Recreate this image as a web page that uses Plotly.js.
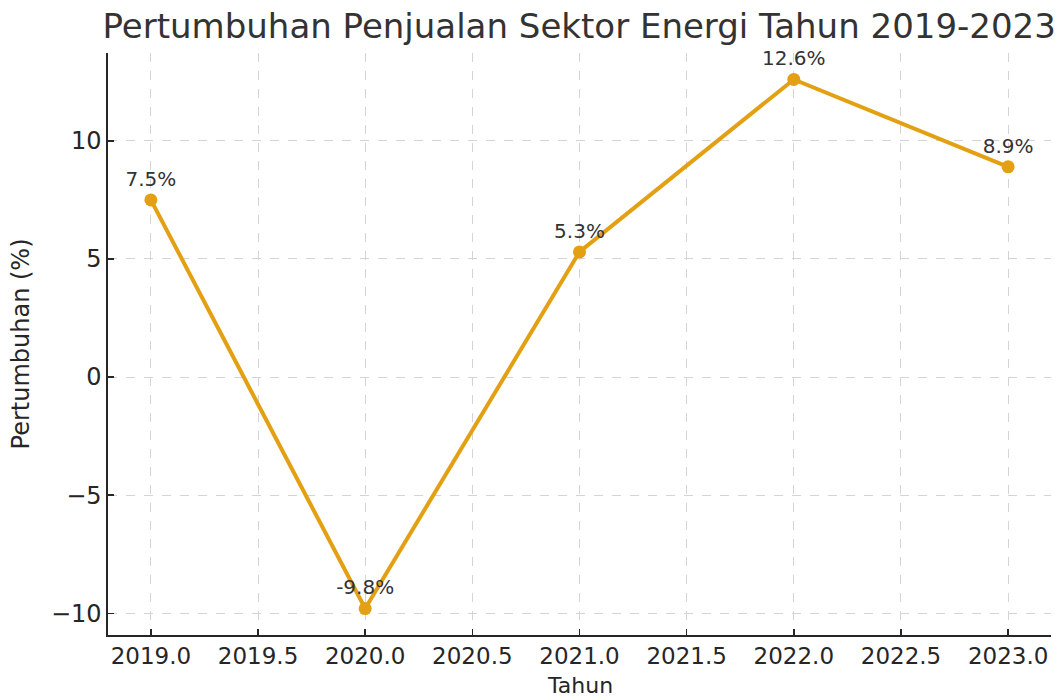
<!DOCTYPE html>
<html>
<head>
<meta charset="utf-8">
<script src="https://cdn.plot.ly/plotly-3.0.1.min.js"></script>
<style>html,body{margin:0;padding:0;background:#fff;}#chart{width:1055px;height:699px;}</style>
</head>
<body>
<div id="chart"></div>
<script>
const years = [2019, 2020, 2021, 2022, 2023];
const growth = [7.5, -9.8, 5.3, 12.6, 8.9];
const labels = ['7.5%', '-9.8%', '5.3%', '12.6%', '8.9%'];

const FONT = 'DejaVu Sans, sans-serif';
const TXT = '#333333';

const trace = {
  x: years,
  y: growth,
  text: labels,
  mode: 'lines+markers+text',
  textposition: 'top center',
  textfont: {family: FONT, size: 20, color: TXT},
  line: {color: '#E3A012', width: 4},
  marker: {color: '#E3A012', size: 13},
  cliponaxis: false,
  hoverinfo: 'skip'
};

const axisCommon = {
  showline: true,
  linecolor: '#262626',
  linewidth: 1.6,
  ticks: 'inside',
  ticklen: 6,
  tickwidth: 1.4,
  tickcolor: '#262626',
  showgrid: true,
  gridcolor: '#d4d4d4',
  griddash: 'dash',
  gridwidth: 1,
  zeroline: false,
  mirror: false,
  tickfont: {family: FONT, size: 24, color: '#262626'}
};

const layout = {
  width: 1055,
  height: 699,
  margin: {l: 108, r: 4, t: 53, b: 64},
  paper_bgcolor: '#ffffff',
  plot_bgcolor: '#ffffff',
  showlegend: false,
  title: {
    text: 'Pertumbuhan Penjualan Sektor Energi Tahun 2019-2023',
    font: {family: FONT, size: 34, color: '#333333'},
    x: 0.549, xanchor: 'center',
    y: 0.962, yanchor: 'middle', yref: 'container'
  },
  xaxis: Object.assign({}, axisCommon, {
    range: [2018.8, 2023.2],
    tick0: 2019, dtick: 0.5,
    tickformat: '.1f',
    tickfont: {family: FONT, size: 23, color: '#262626'}
  }),
  yaxis: Object.assign({}, axisCommon, {
    range: [-10.92, 13.72],
    tick0: 0, dtick: 5,
    title: {text: 'Pertumbuhan (%)', font: {family: FONT, size: 24, color: '#262626'}, standoff: 14}
  }),
  annotations: [{
    text: 'Tahun',
    xref: 'paper', yref: 'paper',
    x: 0.5, y: -0.0868,
    xanchor: 'center', yanchor: 'middle',
    showarrow: false,
    font: {family: FONT, size: 22, color: '#262626'}
  }]
};

Plotly.newPlot('chart', [trace], layout, {displayModeBar: false, staticPlot: true});
</script>
</body>
</html>
